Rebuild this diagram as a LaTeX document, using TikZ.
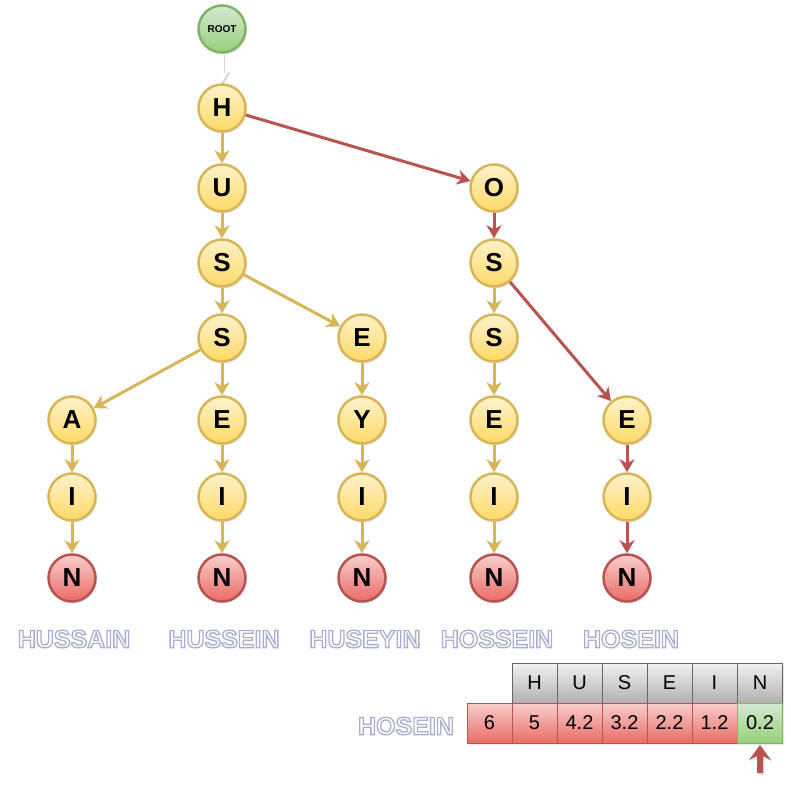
\documentclass[tikz,border=0pt]{standalone}
\usepackage{fontspec}
\setmainfont{Liberation Sans}
\usetikzlibrary{arrows.meta,shadows}
\definecolor{goldF1}{HTML}{FFF2CC}
\definecolor{goldF2}{HTML}{FFD966}
\definecolor{goldD}{HTML}{D6B656}
\definecolor{redF1}{HTML}{F8CECC}
\definecolor{redF2}{HTML}{EA6B66}
\definecolor{redD}{HTML}{B85450}
\definecolor{grnF1}{HTML}{D5E8D4}
\definecolor{grnF2}{HTML}{97D077}
\definecolor{grnD}{HTML}{82B366}
\definecolor{gryF1}{HTML}{F2F2F2}
\definecolor{gryF2}{HTML}{B0B0B0}
\definecolor{gryD}{HTML}{666666}
\definecolor{shd}{HTML}{7A80A8}
\tikzset{
  letter/.style={circle, minimum size=47pt, inner sep=0pt, line width=2.5pt,
    font=\fontsize{26}{26}\selectfont\bfseries,
    drop shadow={shadow xshift=1.5pt, shadow yshift=-2pt, opacity=0.2, fill=shd}},
  goldn/.style={letter, draw=goldD, top color=goldF1, bottom color=goldF2},
  redn/.style={letter, draw=redD, top color=redF1, bottom color=redF2},
  grnn/.style={letter, draw=grnD, top color=grnF1, bottom color=grnF2, font=\fontsize{10}{10}\selectfont\bfseries},
  tip/.style={-{Stealth[length=13pt,width=15pt,inset=4pt]}},
  goldedge/.style={draw=goldD, line width=3pt, tip},
  rededge/.style={draw=redD, line width=3pt, tip},
  lbl/.style={text=white, font=\fontsize{25}{25}\selectfont\bfseries, inner sep=0pt},
  cell/.style={rectangle, minimum width=45pt, minimum height=40pt, inner sep=0pt,
    line width=1pt, font=\fontsize{20}{20}\selectfont,
    drop shadow={shadow xshift=1.5pt, shadow yshift=-2pt, opacity=0.2, fill=shd}},
  graycell/.style={cell, draw=gryD, top color=gryF1, bottom color=gryF2},
  redcell/.style={cell, draw=redD, top color=redF1, bottom color=redF2},
  grncell/.style={cell, draw=grnD, top color=grnF1, bottom color=grnF2},
}
% white text with a soft bluish outline (one text object only)
\newcommand\halotext[1]{\special{pdf:literal direct 2 Tr 1.3 w 0.66 0.68 0.82 RG}#1\special{pdf:literal direct 0 Tr}}
\begin{document}
\begin{tikzpicture}[x=1pt,y=-1pt]
\useasboundingbox[fill=white] (0,0) rectangle (790,791);
% nodes
\node[grnn] (root) at (222,29) {ROOT};
\node[goldn] (h) at (222,108) {H};
\node[goldn] (u) at (222,188) {U};
\node[goldn] (s1) at (222,263) {S};
\node[goldn] (s2) at (222,338) {S};
\node[goldn] (a) at (72,420) {A};
\node[goldn] (ia) at (72,497) {I};
\node[redn] (na) at (72,578) {N};
\node[goldn] (e2) at (222,420) {E};
\node[goldn] (ie) at (222,497) {I};
\node[redn] (ne) at (222,578) {N};
\node[goldn] (e3) at (362,338) {E};
\node[goldn] (y) at (362,420) {Y};
\node[goldn] (iy) at (362,497) {I};
\node[redn] (ny) at (362,578) {N};
\node[goldn] (o) at (494,188) {O};
\node[goldn] (os1) at (494,263) {S};
\node[goldn] (os2) at (494,338) {S};
\node[goldn] (oe) at (494,420) {E};
\node[goldn] (oi) at (494,497) {I};
\node[redn] (on) at (494,578) {N};
\node[goldn] (he) at (627,420) {E};
\node[goldn] (hi) at (627,497) {I};
\node[redn] (hn) at (627,578) {N};
% edges
\draw[shd, opacity=0.35, line width=4.5pt, tip, transform canvas={shift={(1pt,-1.5pt)}}] (root) -- (h);
\draw[white, line width=3pt, tip] (root) -- (h);
\draw[goldedge] (h) -- (u);
\draw[rededge] (h) -- (o);
\draw[goldedge] (u) -- (s1);
\draw[goldedge] (s1) -- (s2);
\draw[goldedge] (s1) -- (e3);
\draw[goldedge] (s2) -- (a);
\draw[goldedge] (s2) -- (e2);
\draw[goldedge] (a) -- (ia);
\draw[goldedge] (ia) -- (na);
\draw[goldedge] (e2) -- (ie);
\draw[goldedge] (ie) -- (ne);
\draw[goldedge] (e3) -- (y);
\draw[goldedge] (y) -- (iy);
\draw[goldedge] (iy) -- (ny);
\draw[rededge] (o) -- (os1);
\draw[goldedge] (os1) -- (os2);
\draw[rededge] (os1) -- (he);
\draw[goldedge] (os2) -- (oe);
\draw[goldedge] (oe) -- (oi);
\draw[goldedge] (oi) -- (on);
\draw[rededge] (he) -- (hi);
\draw[rededge] (hi) -- (hn);
% labels
\node[lbl] (l1) at (74,639) {\halotext{HUSSAIN}};
\node[lbl] (l2) at (224,639) {\halotext{HUSSEIN}};
\node[lbl] (l3) at (365,639) {\halotext{HUSEYIN}};
\node[lbl] (l4) at (497,639) {\halotext{HOSSEIN}};
\node[lbl] (l5) at (631,639) {\halotext{HOSEIN}};
\node[lbl] (l6) at (406,726) {\halotext{HOSEIN}};
% table
\node[graycell] (tH) at (534.5,683) {H};
\node[graycell] (tU) at (579.5,683) {U};
\node[graycell] (tS) at (624.5,683) {S};
\node[graycell] (tE) at (669.5,683) {E};
\node[graycell] (tI) at (714.5,683) {I};
\node[graycell] (tN) at (760,683) {N};
\node[redcell] (v0) at (489.5,723) {6};
\node[redcell] (v1) at (534.5,723) {5};
\node[redcell] (v2) at (579.5,723) {4.2};
\node[redcell] (v3) at (624.5,723) {3.2};
\node[redcell] (v4) at (669.5,723) {2.2};
\node[redcell] (v5) at (714.5,723) {1.2};
\node[grncell] (v6) at (760,723) {0.2};
% pointer arrow
\fill[redD, drop shadow={shadow xshift=1.5pt, shadow yshift=-2pt, opacity=0.2, fill=shd}]
  (760,745) -- (771,760) -- (763,756) -- (763,773) -- (757,773) -- (757,756) -- (749,760) -- cycle;
\end{tikzpicture}
\end{document}
